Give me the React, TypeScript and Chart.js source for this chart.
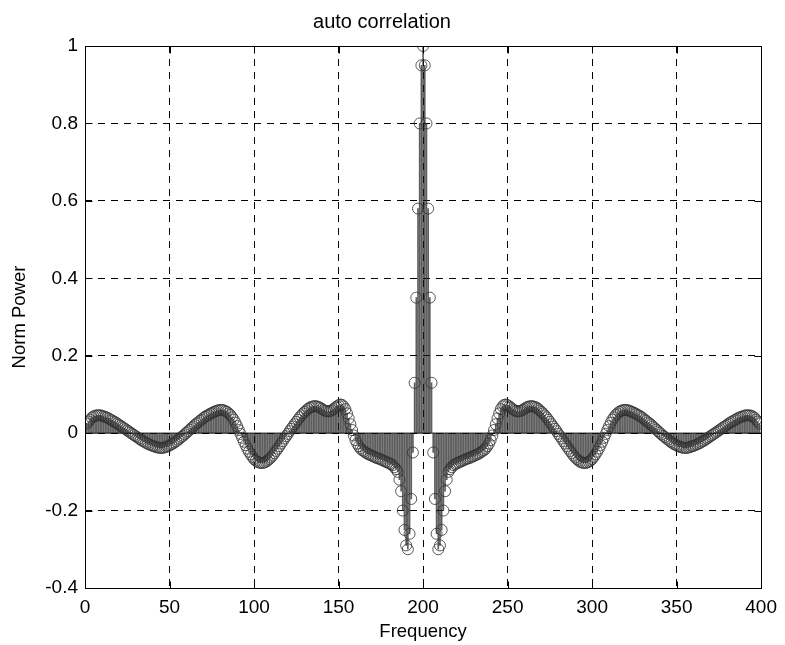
import React, { useEffect, useRef } from 'react';
import { Chart, registerables } from 'chart.js';

Chart.register(...registerables);

const chartTitle = 'auto correlation';
const xAxisTitle = 'Frequency';
const yAxisTitle = 'Norm Power';

const xTicks = [0, 50, 100, 150, 200, 250, 300, 350, 400];
const xTickLabels = ['0', '50', '100', '150', '200', '250', '300', '350', '400'];
const yTicks = [-0.4, -0.2, 0, 0.2, 0.4, 0.6, 0.8, 1];
const yTickLabels = ['-0.4', '-0.2', '0', '0.2', '0.4', '0.6', '0.8', '1'];

// first sample frequency
const firstFrequency = 1;

// samples at frequency 1..199
const leftValues = [
  0.025, 0.030, 0.035, 0.040, 0.043, 0.045, 0.046, 0.046, 0.046, 0.045,
  0.043, 0.042, 0.040, 0.038, 0.035, 0.033, 0.030, 0.028, 0.025, 0.022,
  0.019, 0.016, 0.013, 0.010, 0.007, 0.004, 0.001, -0.002, -0.005, -0.008,
  -0.011, -0.014, -0.017, -0.020, -0.022, -0.025, -0.027, -0.029, -0.031, -0.033,
  -0.034, -0.036, -0.037, -0.038, -0.038, -0.038, -0.037, -0.035, -0.034, -0.032,
  -0.029, -0.027, -0.024, -0.021, -0.017, -0.014, -0.010, -0.007, -0.003, 0.001,
  0.005, 0.009, 0.013, 0.017, 0.021, 0.025, 0.028, 0.032, 0.035, 0.039,
  0.042, 0.045, 0.047, 0.050, 0.052, 0.054, 0.056, 0.058, 0.059, 0.060,
  0.060, 0.059, 0.057, 0.055, 0.051, 0.047, 0.041, 0.035, 0.027, 0.018,
  0.008, -0.002, -0.012, -0.022, -0.031, -0.040, -0.048, -0.055, -0.061, -0.067,
  -0.071, -0.074, -0.076, -0.077, -0.077, -0.076, -0.074, -0.071, -0.067, -0.063,
  -0.058, -0.052, -0.046, -0.040, -0.034, -0.027, -0.021, -0.014, -0.008, -0.002,
  0.005, 0.011, 0.017, 0.023, 0.029, 0.035, 0.041, 0.046, 0.051, 0.055,
  0.059, 0.063, 0.066, 0.068, 0.069, 0.070, 0.069, 0.068, 0.066, 0.063,
  0.060, 0.058, 0.057, 0.056, 0.057, 0.059, 0.062, 0.066, 0.069, 0.072,
  0.074, 0.073, 0.069, 0.062, 0.051, 0.038, 0.023, 0.008, -0.006, -0.018,
  -0.027, -0.034, -0.040, -0.044, -0.047, -0.050, -0.053, -0.055, -0.057, -0.059,
  -0.061, -0.063, -0.065, -0.066, -0.068, -0.070, -0.072, -0.074, -0.076, -0.078,
  -0.080, -0.083, -0.088, -0.093, -0.100, -0.120, -0.150, -0.200, -0.250, -0.290,
  -0.300, -0.260, -0.170, -0.050, 0.130, 0.350, 0.580, 0.800, 0.950,
];

// sample at frequency 200
const peakValue = 1.0;

// samples at frequency 201..399
const rightValues = [
  0.950, 0.800, 0.580, 0.350, 0.130, -0.050, -0.170, -0.260, -0.300,
  -0.290, -0.250, -0.200, -0.150, -0.120, -0.100, -0.093, -0.088, -0.083, -0.080,
  -0.078, -0.076, -0.074, -0.072, -0.070, -0.068, -0.066, -0.065, -0.063, -0.061,
  -0.059, -0.057, -0.055, -0.053, -0.050, -0.047, -0.044, -0.040, -0.034, -0.027,
  -0.018, -0.006, 0.008, 0.023, 0.038, 0.051, 0.062, 0.069, 0.073, 0.074,
  0.072, 0.069, 0.066, 0.062, 0.059, 0.057, 0.056, 0.057, 0.058, 0.060,
  0.063, 0.066, 0.068, 0.069, 0.070, 0.069, 0.068, 0.066, 0.063, 0.059,
  0.055, 0.051, 0.046, 0.041, 0.035, 0.029, 0.023, 0.017, 0.011, 0.005,
  -0.002, -0.008, -0.014, -0.021, -0.027, -0.034, -0.040, -0.046, -0.052, -0.058,
  -0.063, -0.067, -0.071, -0.074, -0.076, -0.077, -0.077, -0.076, -0.074, -0.071,
  -0.067, -0.061, -0.055, -0.048, -0.040, -0.031, -0.022, -0.012, -0.002, 0.008,
  0.018, 0.027, 0.035, 0.041, 0.047, 0.051, 0.055, 0.057, 0.059, 0.060,
  0.060, 0.059, 0.058, 0.056, 0.054, 0.052, 0.050, 0.047, 0.045, 0.042,
  0.039, 0.035, 0.032, 0.028, 0.025, 0.021, 0.017, 0.013, 0.009, 0.005,
  0.001, -0.003, -0.007, -0.010, -0.014, -0.017, -0.021, -0.024, -0.027, -0.029,
  -0.032, -0.034, -0.035, -0.037, -0.038, -0.038, -0.038, -0.037, -0.036, -0.034,
  -0.033, -0.031, -0.029, -0.027, -0.025, -0.022, -0.020, -0.017, -0.014, -0.011,
  -0.008, -0.005, -0.002, 0.001, 0.004, 0.007, 0.010, 0.013, 0.016, 0.019,
  0.022, 0.025, 0.028, 0.030, 0.033, 0.035, 0.038, 0.040, 0.042, 0.043,
  0.045, 0.046, 0.046, 0.046, 0.045, 0.043, 0.040, 0.035, 0.030, 0.025,
];

const FONT = '"Liberation Sans", Arial, Helvetica, sans-serif';

const framePlugin = {
  id: 'matlabFrame',
  afterDatasetsDraw(chart: any) {
    const { ctx, chartArea: a, scales } = chart;
    const L = Math.round(a.left) + 0.5;
    const R = Math.round(a.right) + 0.5;
    const T = Math.round(a.top) + 0.5;
    const B = Math.round(a.bottom) + 0.5;
    ctx.save();
    ctx.setLineDash([]);
    ctx.strokeStyle = '#000';
    ctx.lineWidth = 1;
    ctx.strokeRect(L, T, R - L, B - T);
    const tl = 7;
    ctx.beginPath();
    scales.x.ticks.forEach((t: any) => {
      const px = Math.round(scales.x.getPixelForValue(t.value)) + 0.5;
      ctx.moveTo(px, B);
      ctx.lineTo(px, B - tl);
      ctx.moveTo(px, T);
      ctx.lineTo(px, T + tl);
    });
    scales.y.ticks.forEach((t: any) => {
      const py = Math.round(scales.y.getPixelForValue(t.value)) + 0.5;
      ctx.moveTo(L, py);
      ctx.lineTo(L + tl, py);
      ctx.moveTo(R, py);
      ctx.lineTo(R - tl, py);
    });
    ctx.stroke();
    ctx.restore();
  },
};

const bgPlugin = {
  id: 'whiteBg',
  beforeDraw(chart: any) {
    const { ctx, width, height } = chart;
    ctx.save();
    ctx.fillStyle = '#fff';
    ctx.fillRect(0, 0, width, height);
    ctx.restore();
  },
};

export default function App() {
  const canvasRef = useRef<HTMLCanvasElement | null>(null);

  useEffect(() => {
    const canvas = canvasRef.current;
    if (!canvas) return;
    const powerValues = [...leftValues, peakValue, ...rightValues];
    const points = powerValues.map((v, i) => ({ x: firstFrequency + i, y: v }));
    const baseline = [
      { x: xTicks[0], y: 0 },
      { x: xTicks[xTicks.length - 1], y: 0 },
    ];

    const chart = new Chart(canvas, {
      type: 'scatter',
      data: {
        datasets: [
          {
            type: 'scatter',
            label: 'markers',
            data: points,
            showLine: false,
            pointRadius: 5.5,
            pointHoverRadius: 5.5,
            pointBorderWidth: 1,
            pointBorderColor: 'rgba(50,50,50,0.8)',
            pointBackgroundColor: 'rgba(0,0,0,0)',
            order: 1,
          } as any,
          {
            type: 'bar',
            label: 'stems',
            data: points,
            barThickness: 1,
            backgroundColor: 'rgba(25,25,25,0.7)',
            borderWidth: 0,
            order: 2,
          } as any,
          {
            type: 'line',
            label: 'baseline',
            data: baseline,
            borderColor: '#000',
            borderWidth: 1,
            pointRadius: 0,
            order: 3,
          } as any,
        ],
      },
      options: {
        animation: false,
        responsive: false,
        devicePixelRatio: 1,
        layout: { padding: { left: 0, right: 21, top: 0, bottom: 0 } },
        plugins: {
          legend: { display: false },
          tooltip: { enabled: false },
          title: {
            display: true,
            text: chartTitle,
            color: '#000',
            font: { family: FONT, size: 20, weight: 'normal' },
            padding: { top: 10, bottom: 12 },
          },
        },
        scales: {
          x: {
            type: 'linear',
            min: xTicks[0],
            max: xTicks[xTicks.length - 1],
            offset: false,
            afterBuildTicks: (s: any) => {
              s.ticks = xTicks.map((v) => ({ value: v }));
            },
            afterFit: (s: any) => {
              s.height = 57;
            },
            grid: { color: '#000', lineWidth: 1, drawTicks: false, offset: false },
            border: { display: false, dash: [7, 6] },
            ticks: {
              color: '#000',
              font: { family: FONT, size: 19 },
              padding: 8,
              maxRotation: 0,
              autoSkip: false,
              callback: (_v: any, i: number) => xTickLabels[i],
            },
            title: {
              display: true,
              text: xAxisTitle,
              color: '#000',
              font: { family: FONT, size: 18.5 },
              padding: { top: 0, bottom: 2 },
            },
          },
          y: {
            type: 'linear',
            min: yTicks[0],
            max: yTicks[yTicks.length - 1],
            afterBuildTicks: (s: any) => {
              s.ticks = yTicks.map((v) => ({ value: v }));
            },
            afterFit: (s: any) => {
              s.width = 85;
            },
            grid: { color: '#000', lineWidth: 1, drawTicks: false },
            border: { display: false, dash: [7, 6] },
            ticks: {
              color: '#000',
              font: { family: FONT, size: 19 },
              padding: 7,
              autoSkip: false,
              callback: (_v: any, i: number) => yTickLabels[i],
            },
            title: {
              display: true,
              text: yAxisTitle,
              color: '#000',
              font: { family: FONT, size: 18.5 },
              padding: { top: 9, bottom: 0 },
            },
          },
        },
      } as any,
      plugins: [bgPlugin, framePlugin],
    });

    return () => {
      chart.destroy();
    };
  }, []);

  return (
    <div style={{ position: 'fixed', left: 0, top: 0, width: 785, height: 645, background: '#fff' }}>
      <canvas ref={canvasRef} width={785} height={645} style={{ display: 'block', width: 785, height: 645 }} />
    </div>
  );
}
